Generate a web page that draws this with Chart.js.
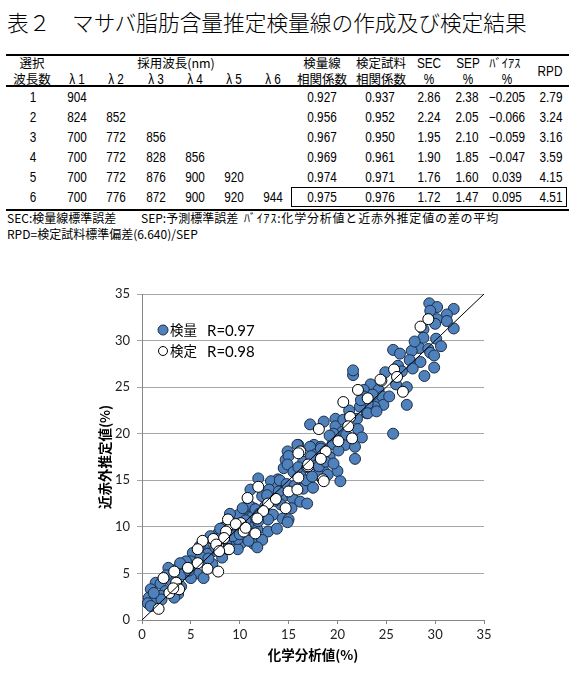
<!DOCTYPE html>
<html lang="ja">
<head>
<meta charset="utf-8">
<script src="https://cdn.jsdelivr.net/npm/chart.js@4.4.0/dist/chart.umd.min.js"></script>
<style>
  html, body { margin: 0; padding: 0; background: #fff; }
  #page { position: relative; width: 587px; height: 674px; overflow: hidden; color: #000; }
  .cell { position: absolute; white-space: nowrap; line-height: 1; }
  .jp { font-family: "Noto Sans CJK JP", sans-serif; font-size: 12.5px; }
  .num { font-family: "Liberation Sans Narrow", "Arial Narrow", "Liberation Sans", sans-serif; font-size: 14px; }
  .note { font-family: "Noto Sans CJK JP", sans-serif; font-size: 12px; }
  .wide { letter-spacing: 0.8px; }
  #title { position: absolute; left: 7px; top: 9px; font-family: "Noto Sans CJK JP", sans-serif; font-weight: 300; font-size: 21.7px; line-height: 1.2; white-space: nowrap; }
  .rule { position: absolute; background: #000; }
  #box { position: absolute; left: 291px; top: 187px; width: 276px; height: 20px; border: 1px solid #000; box-sizing: border-box; }
  #chartWrap { position: absolute; left: 80px; top: 260px; width: 430px; height: 414px; }
</style>
</head>
<body>
<div id="page">
  <div id="title">表２　マサバ脂肪含量推定検量線の作成及び検定結果</div>
  <div class="rule" style="left:6px;top:54px;width:563px;height:2px"></div>
  <div class="rule" style="left:6px;top:85px;width:563px;height:2px"></div>
  <div class="rule" style="left:6px;top:209px;width:563px;height:2px"></div>
  <div id="box"></div>
  <div id="chartWrap"><canvas id="scatterChart"></canvas></div>
</div>
<script>
// table values
const waveCounts = [1, 2, 3, 4, 5, 6];
const wavelengths = [
  [904],
  [824, 852],
  [700, 772, 856],
  [700, 772, 828, 856],
  [700, 772, 876, 900, 920],
  [700, 776, 872, 900, 920, 944],
];
const calR = [0.927, 0.956, 0.967, 0.969, 0.974, 0.975];
const valR = [0.937, 0.952, 0.950, 0.961, 0.971, 0.976];
const secVals = [2.86, 2.24, 1.95, 1.90, 1.76, 1.72];
const sepVals = [2.38, 2.05, 2.10, 1.85, 1.60, 1.47];
const biasVals = [-0.205, -0.066, -0.059, -0.047, 0.039, 0.095];
const rpdVals = [2.79, 3.24, 3.16, 3.59, 4.15, 4.51];

// scatter values: [化学分析値, 近赤外推定値]
const calPoints = [
  [29.4, 34.0], [30.2, 33.6], [29.5, 33.2], [31.9, 33.4], [31.2, 32.8], [30.2, 32.3], [31.2, 32.1],
  [30.0, 31.8], [31.9, 31.3], [28.8, 31.2], [28.8, 30.3], [30.1, 30.2], [28.4, 29.2], [29.3, 29.1],
  [25.7, 29.0], [27.6, 28.9], [29.5, 28.7], [29.9, 28.4], [27.4, 27.9], [28.5, 27.7], [29.9, 27.1],
  [26.2, 27.3], [26.6, 26.7], [28.9, 26.2], [23.4, 25.3], [27.1, 25.0], [22.7, 24.7], [24.2, 24.7],
  [23.9, 23.7], [24.6, 24.0], [24.7, 23.1], [27.1, 23.1], [23.0, 22.2], [25.7, 20.0], [23.8, 22.9],
  [21.6, 26.3], [21.6, 26.8], [22.7, 24.0], [23.1, 23.2], [22.3, 22.9], [23.1, 22.2], [17.2, 21.0],
  [18.6, 21.3], [19.8, 21.6], [22.0, 21.6], [19.8, 20.8], [20.5, 20.2], [22.1, 20.5], [19.6, 20.0],
  [20.8, 18.8], [21.8, 18.6], [21.8, 17.3], [16.0, 18.8], [14.9, 18.1], [17.6, 18.8], [18.3, 18.6],
  [14.7, 17.2], [16.5, 17.0], [17.6, 16.7], [18.6, 16.0], [18.0, 15.6], [20.0, 16.0], [20.3, 14.9],
  [13.9, 15.1], [15.9, 15.7], [14.5, 16.3], [15.9, 18.8], [15.0, 17.6], [17.2, 18.6], [17.8, 17.8],
  [18.3, 18.4], [14.9, 16.7], [18.1, 16.5], [16.2, 15.6], [19.0, 15.6], [11.9, 15.2], [13.2, 14.9],
  [13.9, 14.3], [16.2, 14.6], [16.5, 14.1], [11.1, 14.0], [12.3, 13.3], [14.5, 13.3], [15.4, 13.1],
  [16.2, 12.7], [16.9, 12.5], [14.2, 12.4], [11.4, 12.0], [13.4, 11.3], [14.4, 10.9], [15.0, 10.8],
  [10.4, 11.3], [11.1, 11.1], [12.9, 10.8], [9.6, 10.8], [8.8, 10.4], [10.9, 10.1], [11.8, 9.7],
  [12.9, 9.5], [9.6, 9.7], [7.8, 9.3], [7.0, 8.8], [9.4, 8.7], [11.1, 8.7], [11.4, 8.2], [10.1, 8.2],
  [6.3, 8.1], [9.8, 7.6], [7.3, 7.4], [10.9, 12.4], [9.9, 11.3], [11.3, 11.1], [11.9, 10.6],
  [8.3, 9.9], [9.1, 9.5], [9.8, 8.7], [10.9, 8.5], [7.0, 9.0], [7.9, 8.8], [6.7, 7.1], [5.2, 7.2],
  [5.0, 6.3], [6.5, 6.1], [7.2, 6.0], [4.5, 6.3], [3.7, 5.6], [2.7, 5.6], [4.2, 4.9], [3.0, 4.2],
  [3.7, 2.8], [1.4, 4.0], [1.9, 3.9], [0.9, 3.3], [2.4, 3.1], [0.7, 2.4], [1.2, 2.0], [0.6, 1.8],
  [1.9, 2.6], [0.9, 1.5], [5.6, 5.0], [6.3, 4.5], [4.0, 3.6], [5.0, 4.5], [2.0, 2.2], [1.2, 2.9],
  [3.3, 2.4], [6.0, 6.8], [8.2, 6.7], [8.0, 9.8], [9.0, 11.4], [10.3, 12.0], [12.6, 12.2], [13.0, 14.0],
  [14.1, 15.0], [15.5, 15.9], [16.8, 15.0], [17.3, 17.6], [19.2, 17.5], [19.5, 18.9], [20.6, 21.5],
  [12.3, 8.6], [14.9, 10.5], [13.8, 9.8], [11.8, 7.8], [15.3, 12.0], [17.5, 14.2], [19.2, 19.8],
  [22.5, 19.6], [24.9, 26.6], [26.0, 25.3], [27.7, 27.0],
  [2.5, 4.8], [3.9, 6.1], [4.8, 5.3], [5.9, 7.9], [6.8, 6.6], [7.5, 7.8], [8.6, 8.2], [9.3, 9.0],
  [10.0, 9.2], [10.6, 10.7], [11.6, 11.9], [12.0, 11.4], [12.8, 13.4], [13.6, 12.8], [14.0, 13.8],
  [14.8, 14.6], [15.6, 14.4], [16.0, 16.4], [16.9, 16.4], [17.4, 15.4], [18.8, 17.0], [19.6, 16.8],
  [20.1, 18.2], [20.9, 19.9], [21.2, 22.5], [22.4, 23.6], [23.6, 24.2], [24.0, 22.4], [25.3, 24.0],
  [26.4, 28.6], [27.9, 29.9], [30.6, 29.4],
];
const valPoints = [
  [29.3, 32.3], [28.5, 31.5], [25.8, 26.9], [26.1, 26.1], [24.5, 25.7], [26.7, 24.5], [23.1, 23.8],
  [24.4, 25.8], [22.1, 24.7], [20.6, 23.4], [18.1, 20.5], [21.3, 21.8], [21.1, 20.8], [21.5, 19.5],
  [20.1, 19.2], [16.2, 18.1], [18.8, 18.1], [18.3, 17.3], [17.0, 16.5], [16.0, 15.3], [18.5, 15.1],
  [16.0, 17.9], [17.0, 16.7], [18.6, 14.9], [11.9, 14.3], [15.0, 13.8], [15.9, 14.0], [10.8, 13.1],
  [12.9, 12.5], [13.7, 13.0], [14.7, 12.0], [12.4, 11.7], [11.8, 10.9], [9.1, 10.3], [10.1, 10.4],
  [10.4, 9.5], [8.6, 9.5], [8.4, 8.8], [7.8, 7.9], [8.8, 7.6], [8.8, 10.8], [9.6, 10.3], [10.6, 9.9],
  [11.6, 9.3], [7.3, 8.7], [6.2, 8.5], [7.6, 8.1], [8.9, 7.6], [7.9, 7.4], [5.7, 7.6], [5.7, 6.1],
  [6.7, 5.5], [7.8, 5.2], [4.7, 5.6], [3.3, 5.2], [2.2, 4.5], [3.5, 4.0], [3.8, 3.3], [2.8, 2.9],
  [1.7, 1.2], [3.2, 3.4],
];
const diagonal = [[0, 0], [35, 35]];
const legendItems = [
  { name: "検量", r: "R=0.97" },
  { name: "検定", r: "R=0.98" },
];

const page = document.getElementById("page");

function put(text, x, y, cls, left) {
  const d = document.createElement("div");
  d.className = "cell " + cls;
  d.textContent = text;
  d.style.left = x + "px";
  d.style.top = y + "px";
  let t = left ? "translateY(-50%)" : "translate(-50%,-50%)";
  if (cls === "num") t += " scaleX(0.84)";
  d.style.transform = t;
  if (left) d.style.transformOrigin = "0 50%";
  page.appendChild(d);
}

// header
const lambdaX = [77, 116, 156, 195, 234, 273];
put("選択", 32, 63, "jp");
put("波長数", 32, 79, "jp");
put("採用波長(nm)", 176, 63, "jp");
lambdaX.forEach((x, i) => put("λ " + (i + 1), x, 79, "num"));
put("検量線", 322, 63, "jp");
put("相関係数", 322, 79, "jp");
put("検定試料", 381, 63, "jp");
put("相関係数", 381, 79, "jp");
put("SEC", 429, 63, "num");
put("%", 429, 79, "num");
put("SEP", 468, 63, "num");
put("%", 468, 79, "num");
put("ﾊﾞｲｱｽ", 505, 63, "jp");
put("%", 507, 79, "num");
put("RPD", 550, 71, "num");

// rows
const fmt = (v, d) => (v < 0 ? "−" : "") + Math.abs(v).toFixed(d);
waveCounts.forEach((n, i) => {
  const y = 97 + i * 20;
  put(String(n), 33, y, "num");
  wavelengths[i].forEach((w, j) => put(String(w), lambdaX[j], y, "num"));
  put(fmt(calR[i], 3), 322, y, "num");
  put(fmt(valR[i], 3), 380, y, "num");
  put(fmt(secVals[i], 2), 429, y, "num");
  put(fmt(sepVals[i], 2), 467, y, "num");
  put(fmt(biasVals[i], 3), 507, y, "num");
  put(fmt(rpdVals[i], 2), 551, y, "num");
});

// notes
put("SEC:検量線標準誤差", 7, 218, "note", true);
put("SEP:予測標準誤差", 141, 218, "note", true);
put("ﾊﾞｲｱｽ:化学分析値と近赤外推定値の差の平均", 244, 218, "note wide", true);
put("RPD=検定試料標準偏差(6.640)/SEP", 7, 234, "note", true);

const toXY = (arr) => arr.map((p) => ({ x: p[0], y: p[1] }));

const BLUE = "#4f81bd";
const BLUE_EDGE = "#1d2d46";
const AXIS = "#868686";
const TICK_FONT = { family: "Lato, 'Liberation Sans', sans-serif", size: 13 };
const TITLE_FONT = { family: "'Noto Sans CJK JP', sans-serif", size: 13.5, weight: "bold" };

// small legend drawn inside the plot, top left
const insideLegend = {
  id: "insideLegend",
  afterDraw(chart) {
    const { ctx, chartArea } = chart;
    const x0 = chartArea.left + 21;
    const y0 = chartArea.top + 36;
    ctx.save();
    legendItems.forEach((item, i) => {
      const y = y0 + i * 21;
      ctx.beginPath();
      ctx.arc(x0, y, i === 0 ? 5 : 4.5, 0, Math.PI * 2);
      ctx.fillStyle = i === 0 ? BLUE : "#fff";
      ctx.fill();
      ctx.lineWidth = 1;
      ctx.strokeStyle = i === 0 ? BLUE_EDGE : "#000";
      ctx.stroke();
      ctx.fillStyle = "#000";
      ctx.textBaseline = "middle";
      ctx.font = "13.5px 'Noto Sans CJK JP', sans-serif";
      ctx.fillText(item.name, x0 + 7, y);
      ctx.font = "15px Lato, sans-serif";
      ctx.fillText(item.r, x0 + 44, y + 1);
    });
    ctx.restore();
  },
};

new Chart(document.getElementById("scatterChart"), {
  type: "scatter",
  data: {
    datasets: [
      {
        label: "1:1",
        data: toXY(diagonal),
        showLine: true,
        borderColor: "#000",
        borderWidth: 1,
        pointRadius: 0,
      },
      {
        label: legendItems[1].name,
        data: toXY(valPoints),
        backgroundColor: "#fff",
        borderColor: "#000",
        borderWidth: 1,
        pointRadius: 5.5,
      },
      {
        label: legendItems[0].name,
        data: toXY(calPoints),
        backgroundColor: BLUE,
        borderColor: BLUE_EDGE,
        borderWidth: 1,
        pointRadius: 5.5,
      },
    ],
  },
  options: {
    animation: false,
    responsive: true,
    maintainAspectRatio: false,
    layout: { padding: { top: 34, right: 26, left: 0, bottom: 0 } },
    plugins: { legend: { display: false }, tooltip: { enabled: false } },
    scales: {
      x: {
        type: "linear",
        min: 0,
        max: 35,
        ticks: { stepSize: 5, padding: 3, color: "#222", font: TICK_FONT },
        grid: { drawOnChartArea: false, tickLength: 4, color: AXIS },
        border: { color: AXIS },
        title: { display: true, text: "化学分析値(%)", color: "#000", font: TITLE_FONT, padding: { top: 0, bottom: 11 } },
        afterFit(scale) { scale.height = 54; },
      },
      y: {
        min: 0,
        max: 35,
        ticks: { stepSize: 5, padding: 7, color: "#222", font: TICK_FONT },
        grid: { color: "#a6a6a6", tickLength: 5 },
        border: { color: AXIS },
        title: { display: true, text: "近赤外推定値(%)", color: "#000", font: TITLE_FONT, padding: { top: 17, bottom: 0 } },
        afterFit(scale) { scale.width = 62; },
      },
    },
  },
  plugins: [insideLegend],
});
</script>
</body>
</html>
